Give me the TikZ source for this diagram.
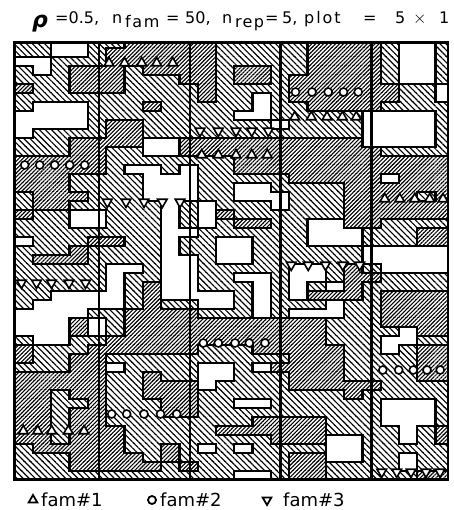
\documentclass[tikz,border=0pt]{standalone}
\usepackage{fontspec}
\setmainfont{DejaVu Sans}
\usepackage{tikz}
\usetikzlibrary{patterns.meta,shapes.geometric}

% soil map, one string per row of cells (0 = blank, 1 = medium, 2 = high)
\makeatletter
\newcount\soilrow \newcount\soilcol
\newcommand\soilline[1]{\global\soilcol=0 \soil@cells#1\@nil\global\advance\soilrow by 1 }
\def\soil@cells#1{\ifx#1\@nil\else
  \expandafter\xdef\csname soil@\the\soilrow @\the\soilcol\endcsname{#1}%
  \global\advance\soilcol by 1 \expandafter\soil@cells\fi}
\newcommand\soil[2]{\csname soil@#1@#2\endcsname}
\makeatother

\soilline{110011222221111122221001}
\soilline{110012222221111122221001}
\soilline{001112222221111122221001}
\soilline{101222122221221122221001}
\soilline{111222111221221222221001}
\soilline{211222111121111222222110}
\soilline{111111111121101222222110}
\soilline{100011121111101122221111}
\soilline{000011111111001111100001}
\soilline{000012211111110111100001}
\soilline{011112211111111111100001}
\soilline{111222200222222222200001}
\soilline{111221100222222222221111}
\soilline{222221111111222222222222}
\soilline{222221001011222222222222}
\soilline{222111100011111222220222}
\soilline{222111100011001111222222}
\soilline{122211100011000111222212}
\soilline{122111110101110111222222}
\soilline{211001110102111111222222}
\soilline{111001110101221100221111}
\soilline{111111110011111100011122}
\soilline{011122110110011100011122}
\soilline{111211110110011111100000}
\soilline{122211110010011111100000}
\soilline{111110010011111001210000}
\soilline{111110110011001001221111}
\soilline{111110120011101010211111}
\soilline{110000120000101022212222}
\soilline{100000121100101110112222}
\soilline{000011222211101000112222}
\soilline{000201222222222221112222}
\soilline{000201222222222221111022}
\soilline{100112222222222221110011}
\soilline{211122222211122222110122}
\soilline{211221111111111222111122}
\soilline{111220111100102222111122}
\soilline{222221121100111222111122}
\soilline{222221122201111222221111}
\soilline{221221122211111111211111}
\soilline{221121112211001111110001}
\soilline{221221112211111111110001}
\soilline{221221111111122221110001}
\soilline{221222111112222221111012}
\soilline{221222111111112220011012}
\soilline{122222112101011110011111}
\soilline{111222212111111220011011}
\soilline{111222221211111221111011}
\soilline{111111111111001221111122}

\begin{document}
\begin{tikzpicture}[x=1pt, y=-1pt,
  every node/.style={inner sep=0pt},
  midsoil/.style={pattern={Lines[angle=-45,distance=4.3pt,line width=1.15pt]}},
  highsoil/.style={pattern={Lines[angle=45,distance=2.8pt,line width=1.1pt]}},
  edge/.style={line width=2.3pt, line cap=rect},
  blockline/.style={line width=2.1pt},
  frame/.style={line width=2.6pt},
  famone/.style={draw, line width=1.6pt, fill=white, regular polygon,
                 regular polygon sides=3, minimum size=11pt},
  famthree/.style={famone, shape border rotate=180},
  famtwo/.style={draw, line width=1.6pt, fill=white, circle, minimum size=8pt},
  title/.style={anchor=base west, font=\fontsize{16}{16}\selectfont},
  legend/.style={anchor=base west, font=\fontsize{18}{18}\selectfont},
]
\useasboundingbox (0,0) rectangle (453,510);

% Field: hatched cells and the outlines between classes
\begin{scope}
\clip (14.7,42.5) rectangle (448,479.7);
\foreach \r in {0,...,48}{
  \foreach \c in {0,...,23}{
    \ifnum\soil{\r}{\c}=1 \fill[midsoil] ({14.7+18.3*\c},{38.7+9*\r}) rectangle ++(18.3,9);\fi
    \ifnum\soil{\r}{\c}=2 \fill[highsoil] ({14.7+18.3*\c},{38.7+9*\r}) rectangle ++(18.3,9);\fi
  }
}
\foreach \r in {0,...,48}{
  \foreach \c [evaluate=\c as \cn using int(\c+1)] in {0,...,22}{
    \ifnum\soil{\r}{\c}=\soil{\r}{\cn}\relax\else
      \draw[edge] ({14.7+18.3*\cn},{38.7+9*\r}) -- ++(0,9);
    \fi
  }
}
\foreach \r [evaluate=\r as \rn using int(\r+1)] in {0,...,47}{
  \foreach \c in {0,...,23}{
    \ifnum\soil{\r}{\c}=\soil{\rn}{\c}\relax\else
      \draw[edge] ({14.7+18.3*\c},{38.7+9*\rn}) -- ++(18.3,0);
    \fi
  }
}
\end{scope}

% Blocks (replicates) and frame
\foreach \x in {99,190,280.5,371.5}
  \draw[blockline] (\x,42.5) -- (\x,479.7);
\draw[frame] (14.7,42.5) rectangle (448,479.7);

% Rep 1
\foreach \x [count=\k] in {24.7,39.7,54.7,69.7,84.7}
  \node[famtwo] (rA-two-\k) at (\x,165) {};
\foreach \x [count=\k] in {21.5,36.5,51.5,69,85.5}
  \node[famthree] (rA-three-\k) at (\x,283) {};
\foreach \x [count=\k] in {23.3,37.7,51.7,68.3,84}
  \node[famone] (rA-one-\k) at (\x,431) {};

% Rep 2
\foreach \x [count=\k] in {109,124.5,141.7,156.7,172.7}
  \node[famone] (rB-one-\k) at (\x,63) {};
\foreach \x [count=\k] in {107.3,126,144,162.3,180}
  \node[famthree] (rB-three-\k) at (\x,202) {};
\foreach \x [count=\k] in {111.7,126.7,144,160.5,176.7}
  \node[famtwo] (rB-two-\k) at (\x,414) {};

% Rep 3
\foreach \x [count=\k] in {200,218.3,236,251.7,268.3}
  \node[famthree] (rC-three-\k) at (\x,131) {};
\foreach \x [count=\k] in {201.7,218.3,236,251.7,267.3}
  \node[famone] (rC-one-\k) at (\x,155) {};
\foreach \x [count=\k] in {203.3,218.3,235,249.3,265}
  \node[famtwo] (rC-two-\k) at (\x,343) {};

% Rep 4
\foreach \x [count=\k] in {295.5,312,328.2,343.5,358.2}
  \node[famtwo] (rD-two-\k) at (\x,92) {};
\foreach \x [count=\k] in {294.7,311.3,327,342.3,356.3}
  \node[famone] (rD-one-\k) at (\x,117) {};
\foreach \x [count=\k] in {291.2,308.2,325.5,342.7,359.7}
  \node[famthree] (rD-three-\k) at (\x,265) {};

% Rep 5
\foreach \x [count=\k] in {384.7,399.7,414.7,429.7,443}
  \node[famone] (rE-one-\k) at (\x,199) {};
\foreach \x [count=\k] in {382.8,398.7,413.3,427,440.2}
  \node[famtwo] (rE-two-\k) at (\x,370) {};
\foreach \x [count=\k] in {381.7,396.7,411,426,440}
  \node[famthree] (rE-three-\k) at (\x,472) {};

% Title
\node[title, font=\fontsize{22}{22}\selectfont\bfseries\itshape] (rho) at (32,28) {ρ};
\node[title] (rhoval) at (55,23.5) {=0.5,};
\node[title] (nfam) at (112,23.5) {n};
\node[title, font=\fontsize{16}{16}\selectfont\addfontfeature{LetterSpace=10}] (nfamsub) at (125,28) {fam};
\node[title] (nfameq) at (166,23.5) {=};
\node[title] (nfamval) at (185,23.5) {50,};
\node[title] (nrep) at (222,23.5) {n};
\node[title, font=\fontsize{16}{16}\selectfont\addfontfeature{LetterSpace=8}] (nrepsub) at (235,28) {rep};
\node[title] (nrepeq) at (265,23.5) {=};
\node[title] (nrepval) at (282,23.5) {5,};
\node[title, font=\fontsize{16}{16}\selectfont\addfontfeature{LetterSpace=12}] (plot) at (304,23.5) {plot};
\node[title] (ploteq) at (363,23.5) {=};
\node[title] (plotfive) at (395,23.5) {5};
\node[title] (plottimes) at (413,23.5) {$\times$};
\node[title] (plotone) at (439,23.5) {1};

% Legend
\node[famone, line width=1.8pt, minimum size=10pt] (legone) at (33,500) {};
\node[legend] (legonetext) at (41,506) {fam\#1};
\node[famtwo, line width=1.8pt] (legtwo) at (152,500) {};
\node[legend] (legtwotext) at (160,506) {fam\#2};
\node[famthree, line width=1.8pt, minimum size=10pt] (legthree) at (267,500) {};
\node[legend] (legthreetext) at (283,506) {fam\#3};

\end{tikzpicture}
\end{document}
